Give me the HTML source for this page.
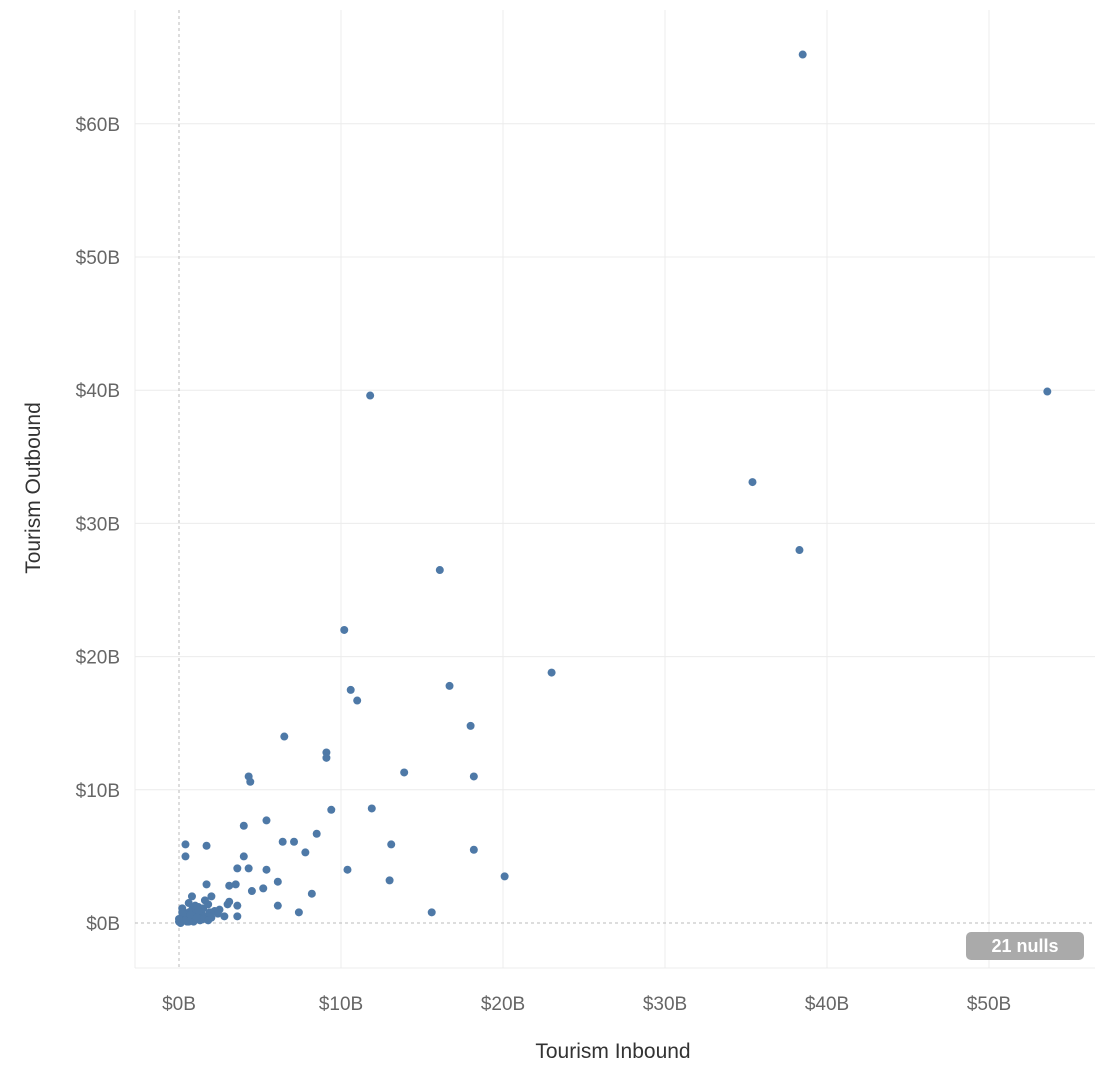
<!DOCTYPE html>
<html><head><meta charset="utf-8"><style>
body{margin:0;background:#fff;font-family:"Liberation Sans",sans-serif}
svg{display:block}
</style></head><body>
<svg id="chart" width="1120" height="1074"></svg>
<script>
const xTicks=[0,10,20,30,40,50];
const yTicks=[0,10,20,30,40,50,60];
const inbound=[38.5,53.6,11.8,35.4,38.3,16.1,10.2,23.0,16.7,10.6,11.0,18.0,6.5,9.1,9.1,4.3,13.9,18.2,4.4,9.4,11.9,5.4,4.0,8.5,6.4,7.1,13.1,0.4,1.7,7.8,18.2,0.4,4.0,3.6,4.3,5.4,10.4,20.1,13.0,6.1,1.7,3.5,3.1,5.2,4.5,2.0,0.8,8.2,3.1,3.0,3.6,6.1,7.4,15.6,3.6,2.8,
0.0,0.1,0.2,0.3,0.4,0.5,0.6,0.7,0.8,0.9,1.0,1.1,1.2,1.3,1.4,1.5,1.6,1.8,1.9,2.0,2.2,2.5,0.2,0.5,0.8,1.0,1.3,1.6,1.9,0.3,0.6,0.9,1.2,1.5,0.1,0.4,0.7,1.1,2.4,1.8,0.2,0.0,0.6];
const outbound=[65.2,39.9,39.6,33.1,28.0,26.5,22.0,18.8,17.8,17.5,16.7,14.8,14.0,12.8,12.4,11.0,11.3,11.0,10.6,8.5,8.6,7.7,7.3,6.7,6.1,6.1,5.9,5.9,5.8,5.3,5.5,5.0,5.0,4.1,4.1,4.0,4.0,3.5,3.2,3.1,2.9,2.9,2.8,2.6,2.4,2.0,2.0,2.2,1.6,1.4,1.3,1.3,0.8,0.8,0.5,0.5,
0.1,0.3,0.5,0.2,0.6,0.4,0.8,0.3,1.0,0.5,0.7,0.4,1.2,0.6,0.9,1.1,0.5,1.4,0.8,0.4,0.9,1.0,1.1,0.1,0.2,1.3,0.2,1.7,0.5,0.7,1.5,0.1,0.9,0.3,0.0,0.2,0.6,0.4,0.7,0.2,0.8,0.3,0.1];
const NS='http://www.w3.org/2000/svg';
const svg=document.getElementById('chart');
const X=v=>179+v*16.2, Y=v=>923-v*13.32;
function el(t,a,p){const e=document.createElementNS(NS,t);for(const k in a)e.setAttribute(k,a[k]);(p||svg).appendChild(e);return e;}
// grid
xTicks.forEach(t=>{
 if(t>0){const g=el('line',{x1:X(t),x2:X(t),y1:10,y2:968,stroke:'#ececec','stroke-width':1});
 
 }
 const tx=el('text',{x:X(t),y:1010,'text-anchor':'middle','font-size':19,fill:'#666'});tx.textContent='$'+t+'B';
 
 
});
yTicks.forEach(t=>{
 if(t>0){const g=el('line',{x1:135,x2:1095,y1:Y(t),y2:Y(t),stroke:'#ececec','stroke-width':1});
 
 }
 const tx=el('text',{x:120,y:Y(t)+7,'text-anchor':'end','font-size':19,fill:'#666'});tx.textContent='$'+t+'B';
 
 
});
el('line',{x1:135,x2:1095,y1:968,y2:968,stroke:'#ececec'});
el('line',{x1:135,x2:135,y1:10,y2:968,stroke:'#ececec'});
const zx=el('line',{x1:X(0),x2:X(0),y1:10,y2:968,stroke:'#bbb','stroke-dasharray':'3,3'});


const zy=el('line',{x1:135,x2:1095,y1:Y(0),y2:Y(0),stroke:'#bbb','stroke-dasharray':'3,3'});


inbound.forEach((v,i)=>{
 const c=el('circle',{cx:X(v),cy:Y(outbound[i]),r:4,fill:'#4e79a7'});
 
 
});
const xt=el('text',{x:613,y:1058,'text-anchor':'middle','font-size':21,fill:'#333'});xt.textContent='Tourism Inbound';


const yt=el('text',{x:0,y:0,'text-anchor':'middle','font-size':21,fill:'#333',transform:'translate(40,488) rotate(-90)'});yt.textContent='Tourism Outbound';


const nb=el('g',{});


el('rect',{x:966,y:932,width:118,height:28,rx:5,fill:'#aaa'},nb);
const nt=el('text',{x:1025,y:952,'text-anchor':'middle','font-size':18,'font-weight':'bold',fill:'#fff'},nb);nt.textContent='21 nulls';
</script>
</body></html>
